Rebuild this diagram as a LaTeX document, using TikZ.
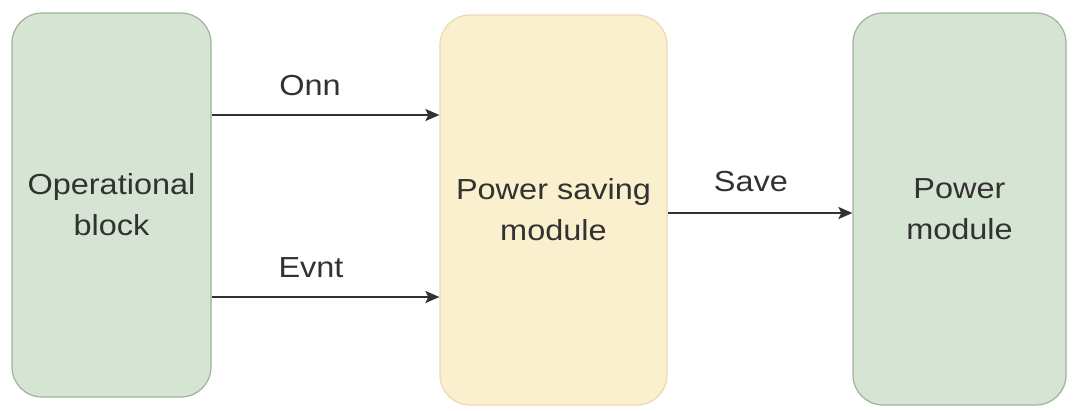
\documentclass[tikz,border=0pt]{standalone}
\usepackage{fontspec}
\setmainfont{Liberation Sans}[FakeStretch=1.12]
\usepackage{tikz}
\usetikzlibrary{arrows.meta}

\definecolor{grnfill}{RGB}{214,228,211}
\definecolor{grnline}{RGB}{160,178,155}
\definecolor{yelfill}{RGB}{250,240,206}
\definecolor{yelline}{RGB}{232,218,178}
\definecolor{inkgray}{RGB}{50,50,50}

\tikzset{
  blockbox/.style={draw=grnline, fill=grnfill, line width=1.2pt, rounded corners=30pt,
    align=center, text=inkgray, font=\fontsize{29}{41}\selectfont},
  savebox/.style={blockbox, draw=yelline, fill=yelfill},
  flow/.style={draw=inkgray, line width=2.4pt, -{Stealth[length=14pt,width=12pt,inset=3pt]}},
  lbl/.style={text=inkgray, font=\fontsize{29}{34}\selectfont}
}

\begin{document}
\begin{tikzpicture}[x=1pt,y=-1pt]
						\useasboundingbox (0,0) rectangle (1075,410);
						
						\node[blockbox, minimum width=199pt, minimum height=384pt] (oper) at (111.5,205) {Operational\\block};
						\node[savebox, minimum width=227pt, minimum height=390pt] (psm) at (553.5,210) {Power saving\\module};
						\node[blockbox, minimum width=213pt, minimum height=392pt] (pwr) at (959.5,209) {Power\\module};
						
						\draw[flow] (oper.east |- 0,115) -- (psm.west |- 0,115);
						\draw[flow] (oper.east |- 0,297) -- (psm.west |- 0,297);
						\draw[flow] (psm.east |- 0,213) -- (pwr.west |- 0,213);
						
						\node[lbl] (onn) at (310,86) {Onn};
						\node[lbl] (evnt) at (311,268) {Evnt};
						\node[lbl] (save) at (751,182) {Save};
					\end{tikzpicture}
\end{document}
